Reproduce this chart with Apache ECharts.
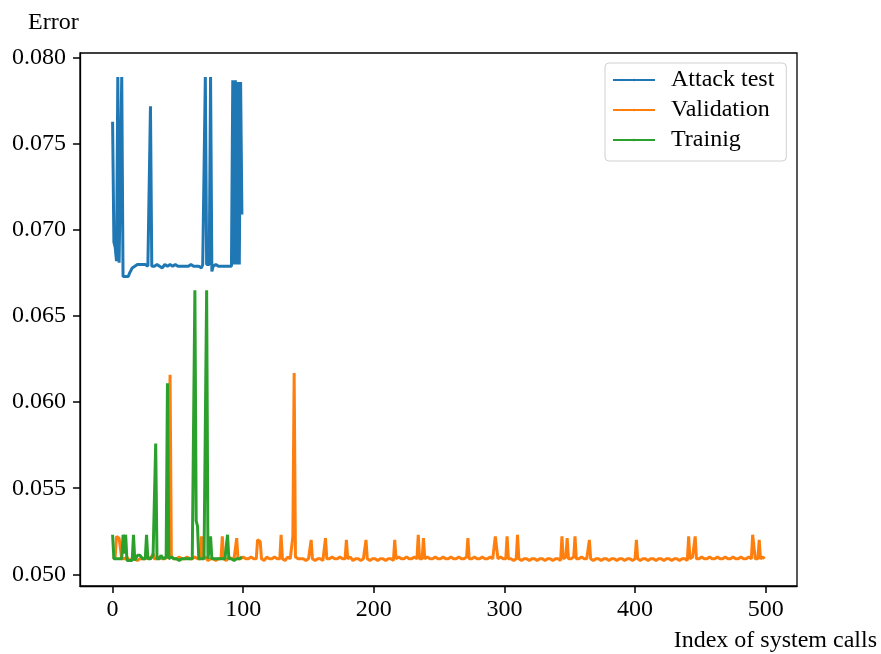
<!DOCTYPE html>
<html>
<head>
<meta charset="utf-8">
<title>Error</title>
<script src="https://cdn.jsdelivr.net/npm/echarts@6/dist/echarts.min.js"></script>
<style>
  html, body { margin: 0; padding: 0; background: #fff; }
  #Chart { width: 881px; height: 654px; }
</style>
</head>
<body>
<div id="Chart"></div>
<script>
// legend names
const seriesNames = ["Attack test", "Validation", "Trainig"];
const colors = ["#1f77b4", "#ff7f0e", "#2ca02c"];

// tick values
const xTicks = [0, 100, 200, 300, 400, 500];
const yTicks = [0.050, 0.055, 0.060, 0.065, 0.070, 0.075, 0.080];

// Attack test, index 0..99
const attackTest = [
  0.0763, 0.0693, 0.0690, 0.0682, 0.0789, 0.0681, 0.0682, 0.0789, 0.0673, 0.0672,
  0.0673, 0.0672, 0.0673, 0.0675, 0.0675, 0.0678, 0.0677, 0.0679, 0.0679, 0.0680,
  0.0679, 0.0680, 0.0679, 0.0680, 0.0679, 0.0680, 0.0679, 0.0679, 0.0680, 0.0772,
  0.0679, 0.0680, 0.0679, 0.0678, 0.0680, 0.0679, 0.0679, 0.0680, 0.0678, 0.0679,
  0.0680, 0.0679, 0.0679, 0.0679, 0.0680, 0.0679, 0.0679, 0.0679, 0.0680, 0.0679,
  0.0679, 0.0679, 0.0679, 0.0680, 0.0679, 0.0679, 0.0679, 0.0678, 0.0679, 0.0679,
  0.0680, 0.0679, 0.0679, 0.0679, 0.0679, 0.0678, 0.0679, 0.0679, 0.0678, 0.0680,
  0.0680, 0.0789, 0.0680, 0.0681, 0.0680, 0.0789, 0.0676, 0.0679, 0.0679, 0.0680,
  0.0679, 0.0679, 0.0680, 0.0679, 0.0678, 0.0679, 0.0680, 0.0679, 0.0679, 0.0679,
  0.0680, 0.0679, 0.0787, 0.0680, 0.0787, 0.0680, 0.0786, 0.0680, 0.0786, 0.0709
];

// Validation, index 0..499
const validation = [
  0.0510, 0.0509, 0.0510, 0.0522, 0.0521, 0.0521, 0.0520, 0.0509, 0.0508, 0.0509, 0.0509, 0.0510, 0.0509, 0.0508, 0.0509, 0.0509, 0.0510, 0.0509, 0.0509, 0.0508,
  0.0509, 0.0509, 0.0510, 0.0509, 0.0508, 0.0509, 0.0509, 0.0510, 0.0509, 0.0509, 0.0510, 0.0512, 0.0509, 0.0508, 0.0509, 0.0509, 0.0510, 0.0509, 0.0509, 0.0508,
  0.0509, 0.0509, 0.0510, 0.0510, 0.0616, 0.0510, 0.0509, 0.0509, 0.0508, 0.0509, 0.0509, 0.0510, 0.0509, 0.0509, 0.0508, 0.0509, 0.0509, 0.0510, 0.0509, 0.0509,
  0.0508, 0.0509, 0.0509, 0.0510, 0.0509, 0.0509, 0.0508, 0.0509, 0.0522, 0.0509, 0.0509, 0.0510, 0.0509, 0.0508, 0.0509, 0.0509, 0.0510, 0.0509, 0.0509, 0.0508,
  0.0509, 0.0509, 0.0510, 0.0509, 0.0522, 0.0509, 0.0509, 0.0508, 0.0509, 0.0510, 0.0509, 0.0509, 0.0508, 0.0509, 0.0509, 0.0521, 0.0509, 0.0508, 0.0509, 0.0509,
  0.0510, 0.0509, 0.0509, 0.0508, 0.0509, 0.0509, 0.0510, 0.0509, 0.0509, 0.0508, 0.0509, 0.0520, 0.0520, 0.0519, 0.0509, 0.0509, 0.0508, 0.0509, 0.0510, 0.0509,
  0.0509, 0.0508, 0.0509, 0.0509, 0.0510, 0.0511, 0.0509, 0.0508, 0.0509, 0.0523, 0.0509, 0.0509, 0.0508, 0.0509, 0.0510, 0.0509, 0.0509, 0.0510, 0.0522, 0.0617,
  0.0510, 0.0509, 0.0509, 0.0508, 0.0509, 0.0510, 0.0509, 0.0509, 0.0508, 0.0509, 0.0509, 0.0510, 0.0520, 0.0509, 0.0509, 0.0508, 0.0509, 0.0509, 0.0510, 0.0509,
  0.0509, 0.0508, 0.0509, 0.0521, 0.0509, 0.0508, 0.0509, 0.0509, 0.0510, 0.0509, 0.0509, 0.0508, 0.0509, 0.0509, 0.0510, 0.0509, 0.0509, 0.0508, 0.0509, 0.0520,
  0.0509, 0.0509, 0.0510, 0.0509, 0.0508, 0.0509, 0.0509, 0.0510, 0.0509, 0.0509, 0.0508, 0.0509, 0.0509, 0.0510, 0.0520, 0.0509, 0.0509, 0.0508, 0.0509, 0.0509,
  0.0510, 0.0509, 0.0509, 0.0508, 0.0509, 0.0509, 0.0510, 0.0509, 0.0509, 0.0508, 0.0509, 0.0509, 0.0510, 0.0509, 0.0509, 0.0508, 0.0520, 0.0509, 0.0509, 0.0510,
  0.0509, 0.0509, 0.0508, 0.0509, 0.0509, 0.0510, 0.0509, 0.0509, 0.0508, 0.0509, 0.0509, 0.0510, 0.0509, 0.0509, 0.0523, 0.0509, 0.0508, 0.0509, 0.0521, 0.0509,
  0.0509, 0.0510, 0.0509, 0.0509, 0.0508, 0.0509, 0.0509, 0.0510, 0.0509, 0.0509, 0.0508, 0.0509, 0.0509, 0.0510, 0.0509, 0.0509, 0.0508, 0.0509, 0.0509, 0.0510,
  0.0509, 0.0509, 0.0508, 0.0509, 0.0509, 0.0510, 0.0509, 0.0509, 0.0508, 0.0509, 0.0509, 0.0510, 0.0521, 0.0509, 0.0508, 0.0509, 0.0509, 0.0510, 0.0509, 0.0509,
  0.0508, 0.0509, 0.0509, 0.0510, 0.0509, 0.0509, 0.0508, 0.0509, 0.0509, 0.0510, 0.0509, 0.0509, 0.0508, 0.0522, 0.0521, 0.0509, 0.0509, 0.0510, 0.0509, 0.0509,
  0.0508, 0.0509, 0.0522, 0.0509, 0.0510, 0.0509, 0.0509, 0.0508, 0.0509, 0.0509, 0.0523, 0.0509, 0.0509, 0.0508, 0.0509, 0.0509, 0.0510, 0.0509, 0.0509, 0.0508,
  0.0509, 0.0509, 0.0510, 0.0509, 0.0509, 0.0508, 0.0509, 0.0509, 0.0510, 0.0509, 0.0509, 0.0508, 0.0509, 0.0509, 0.0510, 0.0509, 0.0509, 0.0508, 0.0509, 0.0509,
  0.0510, 0.0509, 0.0509, 0.0508, 0.0522, 0.0509, 0.0509, 0.0510, 0.0521, 0.0509, 0.0508, 0.0509, 0.0509, 0.0510, 0.0522, 0.0509, 0.0508, 0.0509, 0.0509, 0.0510,
  0.0509, 0.0509, 0.0508, 0.0509, 0.0509, 0.0520, 0.0509, 0.0509, 0.0508, 0.0509, 0.0509, 0.0510, 0.0509, 0.0509, 0.0508, 0.0509, 0.0509, 0.0510, 0.0509, 0.0509,
  0.0508, 0.0509, 0.0509, 0.0510, 0.0509, 0.0509, 0.0508, 0.0509, 0.0509, 0.0510, 0.0509, 0.0509, 0.0508, 0.0509, 0.0509, 0.0510, 0.0509, 0.0509, 0.0508, 0.0509,
  0.0509, 0.0520, 0.0509, 0.0509, 0.0508, 0.0509, 0.0509, 0.0510, 0.0509, 0.0509, 0.0508, 0.0509, 0.0509, 0.0510, 0.0509, 0.0509, 0.0508, 0.0509, 0.0509, 0.0510,
  0.0509, 0.0509, 0.0508, 0.0509, 0.0509, 0.0510, 0.0509, 0.0509, 0.0508, 0.0509, 0.0509, 0.0510, 0.0509, 0.0509, 0.0508, 0.0509, 0.0509, 0.0510, 0.0509, 0.0509,
  0.0508, 0.0522, 0.0509, 0.0509, 0.0510, 0.0509, 0.0522, 0.0509, 0.0508, 0.0509, 0.0509, 0.0510, 0.0509, 0.0509, 0.0508, 0.0509, 0.0509, 0.0510, 0.0509, 0.0509,
  0.0508, 0.0509, 0.0509, 0.0510, 0.0509, 0.0509, 0.0508, 0.0509, 0.0509, 0.0510, 0.0509, 0.0509, 0.0508, 0.0509, 0.0509, 0.0510, 0.0509, 0.0509, 0.0508, 0.0509,
  0.0509, 0.0510, 0.0509, 0.0509, 0.0508, 0.0509, 0.0509, 0.0510, 0.0509, 0.0509, 0.0523, 0.0522, 0.0509, 0.0508, 0.0509, 0.0520, 0.0509, 0.0509, 0.0510, 0.0509
];

// Trainig, index 0..99
const training = [
  0.0523, 0.0509, 0.0508, 0.0509, 0.0508, 0.0509, 0.0508, 0.0509, 0.0523, 0.0512,
  0.0523, 0.0508, 0.0509, 0.0508, 0.0509, 0.0508, 0.0523, 0.0508, 0.0509, 0.0511,
  0.0510, 0.0511, 0.0512, 0.0509, 0.0510, 0.0509, 0.0523, 0.0509, 0.0510, 0.0509,
  0.0510, 0.0511, 0.0510, 0.0576, 0.0509, 0.0510, 0.0509, 0.0511, 0.0510, 0.0509,
  0.0509, 0.0510, 0.0611, 0.0509, 0.0509, 0.0510, 0.0509, 0.0509, 0.0508, 0.0509,
  0.0509, 0.0508, 0.0509, 0.0509, 0.0510, 0.0509, 0.0508, 0.0509, 0.0509, 0.0509,
  0.0508, 0.0509, 0.0509, 0.0665, 0.0531, 0.0528, 0.0509, 0.0509, 0.0509, 0.0510,
  0.0509, 0.0508, 0.0665, 0.0509, 0.0510, 0.0522, 0.0509, 0.0508, 0.0509, 0.0510,
  0.0509, 0.0508, 0.0509, 0.0510, 0.0509, 0.0508, 0.0509, 0.0509, 0.0523, 0.0509,
  0.0508, 0.0509, 0.0509, 0.0508, 0.0509, 0.0509, 0.0510, 0.0509, 0.0510, 0.0510
];

const font = "Liberation Serif";

const chart = echarts.init(document.getElementById("Chart"));

function toPoints(arr) {
  return arr.map((v, i) => [i, v]);
}

const option = {
  animation: false,
  backgroundColor: "#fff",
  color: colors,
  textStyle: { fontFamily: font, color: "#000" },
  grid: {
    left: 80,
    right: 84,
    top: 53,
    bottom: 68,
    show: true,
    borderColor: "#000",
    borderWidth: 1.3,
    backgroundColor: "transparent"
  },
  legend: {
    orient: "vertical",
    left: 605,
    top: 63,
    padding: [5, 12, 9, 7],
    itemWidth: 42,
    itemHeight: 3,
    itemGap: 6,
    backgroundColor: "#fff",
    borderColor: "#d0d0d0",
    borderWidth: 1,
    borderRadius: 4,
    data: seriesNames,
    textStyle: {
      fontFamily: font,
      fontSize: 24,
      color: "#000",
      padding: [0, 0, 0, 11]
    }
  },
  xAxis: {
    type: "value",
    min: -24.95,
    max: 523.95,
    axisLine: { show: true, onZero: false, lineStyle: { color: "#000", width: 1.3 } },
    splitLine: { show: false },
    axisTick: {
      show: true,
      length: 7,
      customValues: xTicks,
      lineStyle: { color: "#000", width: 1.5 }
    },
    axisLabel: {
      customValues: xTicks,
      margin: 12,
      fontFamily: font,
      fontSize: 24,
      color: "#000"
    }
  },
  yAxis: {
    type: "value",
    min: 0.04932,
    max: 0.08029,
    axisLine: { show: true, onZero: false, lineStyle: { color: "#000", width: 1.3 } },
    splitLine: { show: false },
    axisTick: {
      show: true,
      length: 7,
      customValues: yTicks,
      lineStyle: { color: "#000", width: 1.5 }
    },
    axisLabel: {
      customValues: yTicks,
      margin: 14,
      fontFamily: font,
      fontSize: 24,
      color: "#000",
      formatter: v => v.toFixed(3)
    }
  },
  graphic: [
    {
      type: "text",
      left: 28,
      top: 11,
      style: { text: "Error", font: "24px " + font, fill: "#000" }
    },
    {
      type: "text",
      right: 4,
      top: 629,
      style: { text: "Index of system calls", font: "24px " + font, fill: "#000" }
    }
  ],
  series: [
    {
      name: seriesNames[0],
      type: "line",
      symbol: "none",
      lineStyle: { width: 3 },
      data: toPoints(attackTest)
    },
    {
      name: seriesNames[1],
      type: "line",
      symbol: "none",
      lineStyle: { width: 3 },
      data: toPoints(validation)
    },
    {
      name: seriesNames[2],
      type: "line",
      symbol: "none",
      lineStyle: { width: 3 },
      data: toPoints(training)
    }
  ]
};

chart.setOption(option);
</script>
</body>
</html>
